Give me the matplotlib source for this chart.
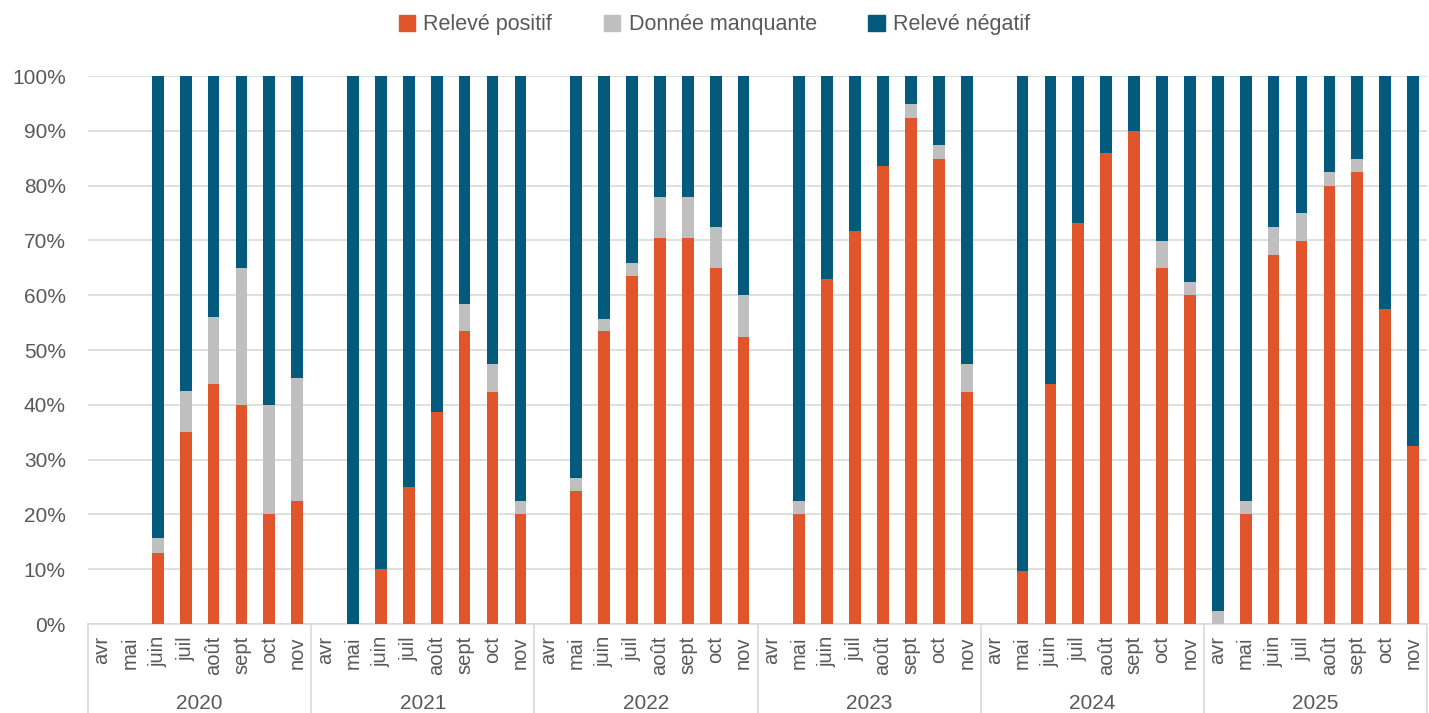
import matplotlib.pyplot as plt
import matplotlib.patches as mpatches
import numpy as np

years = ["2020", "2021", "2022", "2023", "2024", "2025"]
months = ["avr", "mai", "juin", "juil", "août", "sept", "oct", "nov"]

nan = np.nan
# % per month, nan = no survey that month
positif = [
    nan, nan, 13.0, 35.0, 43.75, 40.0, 20.0, 22.4,
    nan, 0.0, 10.0, 25.0, 38.6, 53.5, 42.4, 20.0,
    nan, 24.3, 53.4, 63.5, 70.5, 70.5, 64.9, 52.4,
    nan, 20.0, 63.0, 71.8, 83.6, 92.4, 84.9, 42.4,
    nan, 9.7, 43.8, 73.2, 86.0, 90.0, 64.9, 60.0,
    0.0, 20.0, 67.4, 69.9, 79.9, 82.5, 57.4, 32.4,
]
manquant = [
    nan, nan, 2.7, 7.5, 12.3, 25.0, 20.0, 22.5,
    nan, 0.0, 0.0, 0.0, 0.0, 4.9, 5.0, 2.4,
    nan, 2.4, 2.3, 2.4, 7.5, 7.5, 7.6, 7.6,
    nan, 2.4, 0.0, 0.0, 0.0, 2.5, 2.5, 5.0,
    nan, 0.0, 0.0, 0.0, 0.0, 0.0, 5.0, 2.5,
    2.4, 2.4, 5.1, 5.1, 2.6, 2.4, 0.0, 0.0,
]
negatif = [nan if np.isnan(p) else 100 - p - m for p, m in zip(positif, manquant)]

c_pos = "#E0562A"
c_miss = "#BFBFBF"
c_neg = "#045A7D"
grid_c = "#D9D9D9"
txt_c = "#595959"
font = ["Liberation Sans", "DejaVu Sans"]

pos = np.nan_to_num(np.array(positif, dtype=float))
miss = np.nan_to_num(np.array(manquant, dtype=float))
neg = np.nan_to_num(np.array(negatif, dtype=float))
x = np.arange(len(pos))

fig = plt.figure(figsize=(14.29, 7.13), dpi=100)
ax = fig.add_axes([0.0616, 0.1248, 0.9370, 0.7686])

w = 0.42
ax.bar(x, pos, w, color=c_pos, zorder=3)
ax.bar(x, miss, w, bottom=pos, color=c_miss, zorder=3)
ax.bar(x, neg, w, bottom=pos + miss, color=c_neg, zorder=3)

ax.set_xlim(-0.5, len(x) - 0.5)
ax.set_ylim(0, 100)
ax.set_yticks(np.arange(0, 101, 10))
ax.set_yticklabels([f"{v}%" for v in range(0, 101, 10)], fontsize=15,
                   color=txt_c, family=font)
ax.yaxis.grid(True, color=grid_c, linewidth=1.2, zorder=0)
ax.tick_params(axis="y", length=0, pad=16)
ax.set_xticks([])
for s in ["top", "right", "left"]:
    ax.spines[s].set_visible(False)
ax.spines["bottom"].set_color(grid_c)
ax.spines["bottom"].set_linewidth(1.2)

# category axis: months then years, with separators
tr = ax.get_xaxis_transform()
for i in range(len(x)):
    ax.text(x[i], -0.022, months[i % 8], transform=tr, rotation=90,
            ha="center", va="top", fontsize=14.5, color=txt_c, family=font)
for k, yr in enumerate(years):
    ax.text(k * 8 + 3.5, -0.145, yr, transform=tr, ha="center", va="center",
            fontsize=15, color=txt_c, family=font)
for k in range(len(years) + 1):
    ax.plot([k * 8 - 0.5, k * 8 - 0.5], [0, -0.17], transform=tr, color=grid_c,
            linewidth=1.2, clip_on=False)

handles = [mpatches.Patch(color=c_pos, label="Relevé positif"),
           mpatches.Patch(color=c_miss, label="Donnée manquante"),
           mpatches.Patch(color=c_neg, label="Relevé négatif")]
leg = fig.legend(handles=handles, loc="center", bbox_to_anchor=(0.5, 0.965), ncol=3,
                 frameon=False, handlelength=0.75, handleheight=0.75, handletextpad=0.4,
                 columnspacing=2.4, prop={"family": font, "size": 15.5})
for t in leg.get_texts():
    t.set_color(txt_c)

fig.savefig("out.png", dpi=100)
